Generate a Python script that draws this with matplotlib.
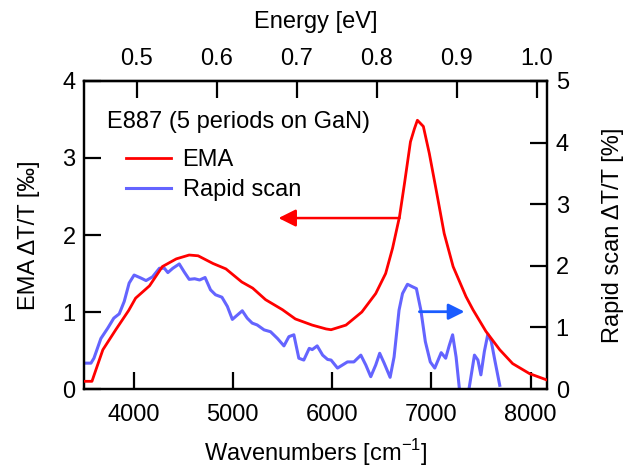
import matplotlib
matplotlib.use("Agg")
import matplotlib.pyplot as plt
from matplotlib.lines import Line2D

plt.rcParams['font.family'] = ['Liberation Sans', 'DejaVu Sans']
plt.rcParams['mathtext.fontset'] = 'custom'
plt.rcParams['mathtext.rm'] = 'Liberation Sans'

FS = 17

# EMA spectrum (left axis, per mille)
ema_wn = [3500, 3580, 3620, 3690, 3820, 3950, 4020, 4160, 4290, 4430, 4560,
          4650, 4800, 4930, 5090, 5200, 5330, 5500, 5630, 5800, 5940, 5990,
          6140, 6300, 6440, 6540, 6610, 6680, 6730, 6790, 6830, 6860, 6920,
          6980, 7050, 7130, 7220, 7350, 7420, 7550, 7690, 7820, 7990, 8160]
ema_val = [0.10, 0.10, 0.25, 0.51, 0.77, 1.02, 1.18, 1.34, 1.59, 1.69, 1.74,
           1.73, 1.63, 1.56, 1.39, 1.31, 1.16, 1.03, 0.91, 0.83, 0.78, 0.77,
           0.83, 1.00, 1.24, 1.50, 1.83, 2.24, 2.67, 3.21, 3.38, 3.49, 3.41,
           3.06, 2.58, 2.02, 1.59, 1.20, 1.03, 0.75, 0.51, 0.33, 0.20, 0.12]

# Rapid scan spectrum (right axis, percent)
rs_wn = [3500, 3570, 3600, 3670, 3740, 3800, 3855, 3905, 3955, 4005, 4075,
         4125, 4190, 4260, 4310, 4345, 4395, 4460, 4510, 4560, 4615, 4665,
         4720, 4775, 4825, 4890, 4945, 4995, 5045, 5095, 5145, 5195, 5245,
         5315, 5380, 5450, 5515, 5565, 5615, 5665, 5715, 5770, 5800, 5850,
         5905, 5955, 5990, 6055, 6105, 6155, 6220, 6290, 6340, 6390, 6440,
         6480, 6525, 6585, 6625, 6675, 6710, 6760, 6810, 6850, 6895, 6940,
         6990, 7035, 7100, 7145, 7180, 7215, 7250, 7290, 7330, 7370, 7435,
         7470, 7500, 7535, 7570, 7605, 7640, 7690]
rs_val = [0.42, 0.42, 0.50, 0.82, 0.99, 1.15, 1.22, 1.42, 1.72, 1.85, 1.80,
          1.76, 1.82, 1.96, 1.96, 1.89, 1.96, 2.03, 1.90, 1.78, 1.79, 1.77,
          1.81, 1.61, 1.53, 1.49, 1.34, 1.13, 1.20, 1.27, 1.15, 1.07, 1.04,
          0.96, 0.93, 0.82, 0.70, 0.85, 0.88, 0.50, 0.47, 0.66, 0.64, 0.70,
          0.55, 0.48, 0.47, 0.34, 0.39, 0.44, 0.44, 0.55, 0.39, 0.20, 0.39,
          0.58, 0.42, 0.19, 0.52, 1.28, 1.55, 1.70, 1.66, 1.63, 1.28, 0.77,
          0.44, 0.34, 0.59, 0.50, 0.70, 0.88, 0.52, -0.10, -0.40, -0.10, 0.55,
          0.47, 0.23, 0.61, 0.89, 0.77, 0.47, 0.06]

left_ticks = [0, 1, 2, 3, 4]
right_ticks = [0, 1, 2, 3, 4, 5]
bottom_ticks = [4000, 5000, 6000, 7000, 8000]
energy_ticks = [0.5, 0.6, 0.7, 0.8, 0.9, 1.0]
energy_labels = ["0.5", "0.6", "0.7", "0.8", "0.9", "1.0"]

WN_PER_EV = 8065.54

fig = plt.figure(figsize=(6.27, 4.70), dpi=100)
ax = fig.add_axes([0.134, 0.1723, 0.739, 0.6554])
ax2 = ax.twinx()

red = '#ff0000'
blue = '#6464ff'
arrow_blue = '#1a5cff'

ax.plot(ema_wn, ema_val, color=red, lw=2.0, zorder=3,
        solid_joinstyle='round')
ax2.plot(rs_wn, rs_val, color=blue, lw=2.2, zorder=2,
         solid_joinstyle='round')

ax.set_xlim(3500, 8170)
ax.set_ylim(0, 4)
ax2.set_ylim(0, 5)
ax.set_xticks(bottom_ticks)
ax.set_yticks(left_ticks)
ax2.set_yticks(right_ticks)

ax.set_zorder(ax2.get_zorder() + 1)
ax.patch.set_visible(False)

for a in (ax, ax2):
    for s in a.spines.values():
        s.set_linewidth(1.6)
    a.tick_params(direction='in', length=12, width=1.6, labelsize=FS, pad=6)
ax.tick_params(axis='x', pad=11)

ax.set_xlabel("Wavenumbers [cm$^{-1}$]", fontsize=FS, labelpad=8)
ax.set_ylabel("EMA \u0394T/T [\u2030]", fontsize=FS, labelpad=16)
ax2.set_ylabel("Rapid scan \u0394T/T [%]", fontsize=FS, labelpad=24)

top = ax.secondary_xaxis('top', functions=(lambda w: w / WN_PER_EV,
                                           lambda e: e * WN_PER_EV))
top.set_xticks(energy_ticks)
top.set_xticklabels(energy_labels)
top.tick_params(direction='in', length=12, width=1.6, labelsize=FS, pad=8)
top.spines['top'].set_linewidth(1.6)
top.set_xlabel("Energy [eV]", fontsize=FS, labelpad=14)

# sample title and legend
ax.text(0.05, 0.866, "E887 (5 periods on GaN)", transform=ax.transAxes,
        fontsize=FS, va='center', ha='left')
handles = [Line2D([], [], color=red, lw=2.0),
           Line2D([], [], color=blue, lw=2.2)]
ax.legend(handles, ["EMA", "Rapid scan"], loc='upper left',
          bbox_to_anchor=(0.07, 0.81), frameon=False, fontsize=FS,
          handlelength=1.9, handletextpad=0.5, labelspacing=0.35,
          borderaxespad=0)

# arrows pointing to each curve's axis
ax.annotate("", xy=(5460, 2.22), xytext=(6680, 2.22),
            arrowprops=dict(arrowstyle='-|>', color=red, lw=1.8,
                            mutation_scale=26, shrinkA=0, shrinkB=0))
ax2.annotate("", xy=(7335, 1.255), xytext=(6880, 1.255),
             arrowprops=dict(arrowstyle='-|>', color=arrow_blue, lw=2.0,
                             mutation_scale=24, shrinkA=0, shrinkB=0))

fig.savefig("out.png", dpi=100)
